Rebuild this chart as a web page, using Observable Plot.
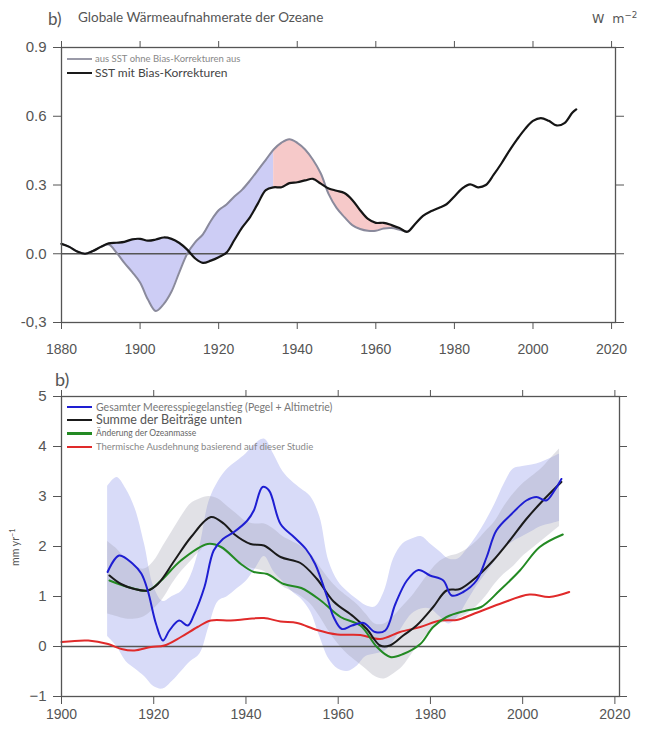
<!DOCTYPE html>
<html><head><meta charset="utf-8">
<script src="https://cdn.jsdelivr.net/npm/d3@7"></script>
<script src="https://cdn.jsdelivr.net/npm/@observablehq/plot@0.6"></script>
<style>
body{margin:0;background:#fff;}
#wrap{position:relative;width:654px;height:729px;overflow:hidden;font-family:Lato,"Noto Sans",sans-serif;color:#555;}
.abs{position:absolute;white-space:nowrap;line-height:1;}
.plot{position:absolute;left:0;}
.lg{position:absolute;width:25px;}
sup{font-size:0.7em;vertical-align:0.55em;line-height:0;}
</style></head><body><div id="wrap"></div>
<script>
// ---------- Panel 1: Globale Wärmeaufnahmerate der Ozeane (W m-2) ----------
const topYears = [1880,1882,1884,1886,1888,1890,1892,1894,1896,1898,1900,1902,1904,1906,1908,1910,1912,1914,1916,1918,1920,1922,1924,1926,1928,1930,1932,1934,1936,1938,1940,1942,1944,1946,1948,1950,1952,1954,1956,1958,1960,1962,1964,1966,1968,1970,1972,1974,1976,1978,1980,1982,1984,1986,1988,1990,1992,1994,1996,1998,2000,2002,2004,2006,2008,2010,2011];
// SST mit Bias-Korrekturen (black)
const sstCorrected = [0.043,0.03,0.01,0.0,0.012,0.03,0.045,0.048,0.052,0.063,0.065,0.057,0.062,0.071,0.065,0.047,0.018,-0.02,-0.04,-0.03,-0.015,0.005,0.06,0.115,0.16,0.22,0.278,0.29,0.29,0.308,0.312,0.32,0.327,0.306,0.285,0.275,0.265,0.235,0.19,0.152,0.135,0.135,0.125,0.112,0.096,0.13,0.165,0.185,0.2,0.216,0.25,0.285,0.303,0.29,0.3,0.345,0.395,0.45,0.5,0.545,0.58,0.592,0.58,0.56,0.57,0.615,0.63];
// aus SST ohne Bias-Korrekturen (grey), 1880–1968
const sstUncorrected = [0.043,0.03,0.01,0.0,0.012,0.03,0.04,0.005,-0.04,-0.08,-0.125,-0.2,-0.25,-0.22,-0.165,-0.08,0.0,0.05,0.085,0.143,0.19,0.215,0.25,0.28,0.32,0.365,0.41,0.455,0.485,0.5,0.484,0.455,0.41,0.35,0.26,0.2,0.16,0.125,0.108,0.1,0.1,0.11,0.112,0.105,0.096];
const topXTicks = [1880,1900,1920,1940,1960,1980,2000,2020];
const topYTicks = [-0.3,0,0.3,0.6,0.9];
const topYLabels = ["-0,3","0.0","0.3","0.6","0.9"];
const fillSwitchYear = 1934;

// ---------- Panel 2: mm yr-1 ----------
const gmslYears = [1910,1912.5,1915.5,1917.3,1918.7,1920.5,1922,1923.4,1925.5,1927.4,1928.8,1931,1933,1935,1937.4,1940.3,1941.7,1943.6,1945,1947.5,1950.4,1953,1955,1957.6,1959,1960.8,1963,1965.5,1968,1970.2,1972.4,1974.9,1977.4,1979.9,1982.8,1984.6,1987.1,1990,1992.2,1994.3,1997.6,2000.8,2003,2005.1,2006.9,2008.4];
const gmsl = [1.49,1.82,1.65,1.46,1.12,0.45,0.12,0.32,0.52,0.42,0.65,1.19,1.92,2.15,2.29,2.52,2.72,3.19,3.12,2.45,2.19,1.95,1.65,0.99,0.59,0.35,0.42,0.47,0.29,0.32,0.85,1.32,1.53,1.42,1.32,1.02,1.09,1.32,1.79,2.32,2.65,2.92,2.99,2.92,3.12,3.35];
const sumYears = [1910.4,1912.9,1915.8,1918.7,1920.9,1924.5,1928.1,1932.4,1935.3,1937.4,1941,1943.9,1947.5,1951.8,1955.4,1959,1963.3,1966.2,1969.1,1971.2,1974.1,1977,1980.6,1983.5,1986.4,1990,1993.6,1997.2,2000.8,2004.4,2008.4];
const sumContrib = [1.42,1.25,1.15,1.12,1.25,1.72,2.19,2.59,2.45,2.25,2.05,2.02,1.79,1.67,1.35,0.9,0.6,0.35,0.02,0.02,0.22,0.42,0.79,1.12,1.15,1.39,1.72,2.12,2.55,2.92,3.29];
const massYears = [1910.4,1914.4,1918.7,1921.6,1925.9,1931.7,1934.6,1938.9,1941.7,1944.6,1948.2,1952,1956.2,1960.5,1964.8,1968.4,1971.3,1974.1,1977.8,1980.6,1983.5,1987.8,1991,1995,1999.4,2003.7,2008.7];
const oceanMass = [1.32,1.19,1.12,1.32,1.72,2.05,1.99,1.65,1.49,1.45,1.25,1.17,0.92,0.59,0.42,-0.01,-0.21,-0.15,0.05,0.39,0.59,0.72,0.79,1.12,1.52,1.99,2.24];
const thermYears = [1900,1905.8,1910.1,1913,1915.8,1919.4,1922.3,1925.9,1929.5,1932.4,1936.7,1940.3,1943.9,1947.5,1951.1,1955.4,1959.8,1964.8,1969.1,1973.4,1977.8,1982.1,1985.7,1989.3,1995,2001.5,2005.8,2010.1];
const thermal = [0.09,0.12,0.05,-0.05,-0.08,-0.01,0.02,0.19,0.39,0.52,0.52,0.55,0.57,0.5,0.47,0.33,0.24,0.23,0.15,0.29,0.39,0.52,0.53,0.65,0.85,1.04,0.99,1.09];
const bandYears = [1910,1912,1914,1916,1918,1920,1922,1924,1926,1928,1930,1932,1934,1936,1938,1940,1942,1944,1946,1948,1950,1952,1954,1956,1958,1960,1962,1964,1966,1968,1970,1972,1974,1976,1978,1980,1982,1984,1986,1988,1990,1992,1994,1996,1998,2000,2002,2004,2006,2008];
const gmslHi = [3.2,3.38,3.15,2.75,2.05,1.2,0.9,1.0,1.1,1.4,2.0,2.9,3.3,3.55,3.7,3.85,4.05,4.15,3.85,3.5,3.3,3.15,3.0,2.6,1.7,1.3,1.1,0.95,0.82,0.79,1.1,1.75,2.05,2.15,2.2,2.05,1.9,1.75,1.75,1.95,2.2,2.5,2.85,3.25,3.55,3.6,3.63,3.68,3.76,3.85];
const gmslLo = [0.2,0.0,-0.3,-0.45,-0.6,-0.8,-0.85,-0.7,-0.5,-0.3,-0.15,0.4,0.9,1.0,1.15,1.3,1.55,1.8,1.5,1.3,1.1,0.95,0.7,0.2,-0.25,-0.45,-0.5,-0.4,-0.2,-0.15,-0.1,0.1,0.4,0.65,0.75,0.75,0.6,0.45,0.6,0.9,1.2,1.45,1.7,1.95,2.1,2.2,2.3,2.4,2.45,2.5];
const sumHi = [2.1,1.95,1.75,1.6,1.55,1.7,2.0,2.3,2.6,2.85,2.95,3.0,2.95,2.8,2.65,2.5,2.45,2.45,2.35,2.2,2.1,2.0,1.85,1.6,1.35,1.15,1.0,0.85,0.65,0.45,0.45,0.6,0.8,1.0,1.25,1.5,1.7,1.8,1.85,1.95,2.1,2.3,2.5,2.8,3.05,3.25,3.4,3.55,3.75,3.95];
const sumLo = [0.65,0.6,0.55,0.55,0.6,0.75,0.95,1.25,1.5,1.7,1.9,2.05,2.0,1.85,1.7,1.6,1.55,1.5,1.35,1.2,1.1,1.0,0.85,0.6,0.3,0.05,-0.15,-0.3,-0.45,-0.6,-0.65,-0.55,-0.4,-0.15,0.1,0.3,0.45,0.5,0.55,0.65,0.8,1.0,1.25,1.45,1.6,1.8,1.95,2.1,2.25,2.4];
const botXTicks = [1900,1920,1940,1960,1980,2000,2020];
const botYTicks = [-1,0,1,2,3,4,5];
const botYLabels = ["\u22121","0","1","2","3","4","5"];

// ---------- build tables ----------
const corrRows = topYears.map((year,i)=>({year, v: sstCorrected[i]}));
const rawRows = sstUncorrected.map((v,i)=>({year: topYears[i], v}));
const diffRows = sstUncorrected.map((raw,i)=>({year: topYears[i], raw, corr: sstCorrected[i]}));
const blueRows = diffRows.filter(d=>d.year<=fillSwitchYear);
const pinkRows = diffRows.filter(d=>d.year>=fillSwitchYear);
const topYMap = new Map(topYTicks.map((t,i)=>[t, topYLabels[i]]));
const botYMap = new Map(botYTicks.map((t,i)=>[t, botYLabels[i]]));
const curve = "catmull-rom";
const axisStyle = {fontFamily:'"Liberation Sans", Arial, sans-serif', fontSize:"14px", color:"#555", background:"transparent", overflow:"visible"};

const topPlot = Plot.plot({
  width: 654, height: 362,
  marginLeft: 61, marginRight: 39, marginTop: 47, marginBottom: 40,
  x: {domain: [1880, 2021]},
  y: {domain: [-0.3, 0.9]},
  style: axisStyle,
  marks: [
    Plot.areaY(blueRows, {x:"year", y1:"corr", y2:"raw", fill:"#cdcdf5", curve}),
    Plot.areaY(pinkRows, {x:"year", y1:"corr", y2:"raw", fill:"#f6c9c9", curve}),
    Plot.ruleY([0], {stroke:"#555", strokeWidth:1.3}),
    Plot.lineY(rawRows, {x:"year", y:"v", stroke:"#8a8a9c", strokeWidth:2, curve}),
    Plot.lineY(corrRows, {x:"year", y:"v", stroke:"#151515", strokeWidth:2.2, curve}),
    Plot.frame({stroke:"#555", strokeWidth:1.3}),
    Plot.axisY({anchor:"left", ticks: topYTicks, tickFormat: d=>topYMap.get(d), tickSize:8, tickPadding:7, fontSize:15, label:null}),
    Plot.axisY({anchor:"right", ticks: topYTicks, tickFormat: ()=>"", tickSize:8, label:null}),
    Plot.axisX({anchor:"bottom", ticks: topXTicks, tickFormat: d=>String(d), tickSize:7, tickPadding:15, label:null}),
    Plot.axisX({anchor:"top", ticks: topXTicks, tickFormat: ()=>"", tickSize:7, label:null})
  ]
});

const bandRows = bandYears.map((year,i)=>({year, gHi: gmslHi[i], gLo: gmslLo[i], sHi: sumHi[i], sLo: sumLo[i]}));
const gmslRows = gmslYears.map((year,i)=>({year, v: gmsl[i]}));
const sumRows = sumYears.map((year,i)=>({year, v: sumContrib[i]}));
const massRows = massYears.map((year,i)=>({year, v: oceanMass[i]}));
const thermRows = thermYears.map((year,i)=>({year, v: thermal[i]}));

const botPlot = Plot.plot({
  width: 654, height: 367,
  marginLeft: 61, marginRight: 35, marginTop: 34, marginBottom: 33,
  x: {domain: [1900, 2021]},
  y: {domain: [-1, 5]},
  style: axisStyle,
  marks: [
    Plot.areaY(bandRows, {x:"year", y1:"gLo", y2:"gHi", fill:"#d8dbf8", curve}),
    Plot.areaY(bandRows, {x:"year", y1:"sLo", y2:"sHi", fill:"#9b9bab", fillOpacity:0.3, curve}),
    Plot.ruleY([0], {stroke:"#555", strokeWidth:1.3}),
    Plot.lineY(thermRows, {x:"year", y:"v", stroke:"#e02a2a", strokeWidth:2, curve}),
    Plot.lineY(massRows, {x:"year", y:"v", stroke:"#238a23", strokeWidth:2, curve}),
    Plot.lineY(sumRows, {x:"year", y:"v", stroke:"#1a1a1a", strokeWidth:2, curve}),
    Plot.lineY(gmslRows, {x:"year", y:"v", stroke:"#1e1ed2", strokeWidth:2, curve}),
    Plot.frame({stroke:"#555", strokeWidth:1.3}),
    Plot.axisY({anchor:"left", ticks: botYTicks, tickFormat: d=>botYMap.get(d), tickSize:8, tickPadding:7, fontSize:15, label:null}),
    Plot.axisY({anchor:"right", ticks: botYTicks, tickFormat: ()=>"", tickSize:7, label:null}),
    Plot.axisX({anchor:"bottom", ticks: botXTicks, tickFormat: d=>String(d), tickSize:8, tickPadding:5, label:null}),
    Plot.axisX({anchor:"top", ticks: botXTicks, tickFormat: ()=>"", tickSize:7, label:null})
  ]
});

const wrap = document.getElementById("wrap");
topPlot.classList.add("plot"); topPlot.style.top = "0px";
botPlot.classList.add("plot"); botPlot.style.top = "362px";
wrap.appendChild(topPlot);
wrap.appendChild(botPlot);

function txt(html, left, cy, size, color, extra) {
  const d = document.createElement("div");
  d.className = "abs";
  d.innerHTML = html;
  d.style.left = left + "px";
  d.style.top = (cy - size/2) + "px";
  d.style.fontSize = size + "px";
  d.style.color = color;
  if (extra) Object.assign(d.style, extra);
  wrap.appendChild(d);
  return d;
}
function swatch(left, cy, color, h) {
  const d = document.createElement("div");
  d.className = "lg";
  d.style.left = left + "px";
  d.style.top = (cy - h/2) + "px";
  d.style.height = h + "px";
  d.style.background = color;
  wrap.appendChild(d);
}

// titles
txt("b)", 48, 18, 17, "#555");
txt("Globale Wärmeaufnahmerate der Ozeane", 78, 18, 13.5, "#555");
txt("W&nbsp;&nbsp;m<sup>\u22122</sup>", 592, 19, 12.5, "#555", {fontFamily:'"DejaVu Sans", sans-serif'});
txt("b)", 55, 379, 18, "#555");
txt("mm yr<sup>\u22121</sup>", 15, 547, 10.5, "#555", {transform:"translate(-50%,0) rotate(-90deg)", transformOrigin:"50% 50%"});

// legend panel 1
swatch(67, 59, "#9a9aa8", 1.6);
txt("aus SST ohne Bias-Korrekturen aus", 95, 59, 9.5, "#888");
swatch(67, 73, "#1a1a1a", 2.6);
txt("SST mit Bias-Korrekturen", 95, 73, 12, "#444");

// legend panel 2
const legendRows = [
  {label:"Gesamter Meeresspiegelanstieg (Pegel + Altimetrie)", color:"#1e1ed2", cy:407, size:10.5, tc:"#777"},
  {label:"Summe der Beiträge unten", color:"#1a1a1a", cy:420, size:12.5, tc:"#555"},
  {label:"Änderung der Ozeanmasse", color:"#238a23", cy:433.5, size:8.5, tc:"#666"},
  {label:"Thermische Ausdehnung basierend auf dieser Studie", color:"#e02a2a", cy:447, size:9.5, tc:"#888"}
];
for (const r of legendRows) {
  swatch(67, r.cy, r.color, 2.6);
  txt(r.label, 96, r.cy, r.size, r.tc);
}
</script></body></html>
